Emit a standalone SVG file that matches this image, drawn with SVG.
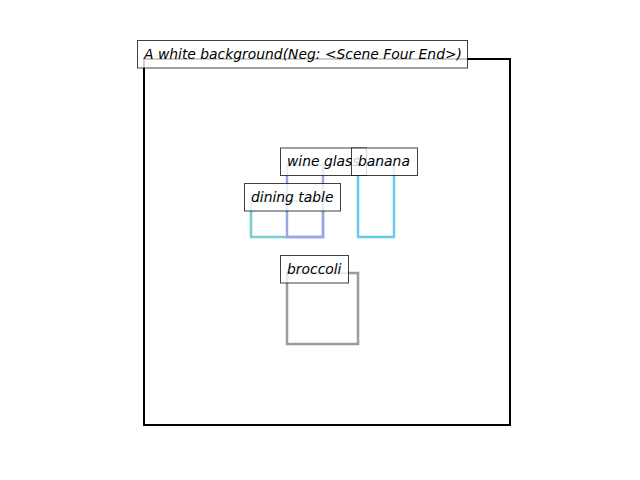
<svg xmlns="http://www.w3.org/2000/svg" width="640" height="480" viewBox="0 0 640 480">
<style>
.box{fill:none;stroke-width:2.5}
.lb{fill:#fff;fill-opacity:0.8;stroke:#000;stroke-opacity:0.75;stroke-width:1}
text{font-family:"DejaVu Sans","Liberation Sans",sans-serif;font-style:italic;font-size:13.89px;fill:#000}
</style>
<rect width="640" height="480" fill="#fff"/>
<g id="scene">
<rect x="144" y="59" width="366" height="366" fill="none" stroke="#000" stroke-width="2"/>
</g>
<g id="dining-table-rect"><rect class="box" x="251" y="201" width="72" height="36" stroke="#78ccd6"/></g>
<g id="wine-glass-rect"><rect class="box" x="287" y="165" width="36" height="72" stroke="#9aa6e4"/></g>
<g id="banana-rect"><rect class="box" x="358" y="165" width="36" height="72" stroke="#66ccee"/></g>
<g id="broccoli-rect"><rect class="box" x="287" y="273" width="71" height="71" stroke="#9c9c9c"/></g>
<g id="title-label"><rect class="lb" x="137.5" y="40.5" width="330" height="27.5"/><text x="144" y="58.5">A white background(Neg: &lt;Scene Four End&gt;)</text></g>
<g id="wine-glass"><rect class="lb" x="280.5" y="148" width="86" height="27.5"/><text x="287" y="166">wine glass</text></g>
<g id="banana"><rect class="lb" x="351.5" y="148" width="66" height="27.5"/><text x="358" y="166">banana</text></g>
<g id="dining-table"><rect class="lb" x="244.5" y="183.5" width="96" height="27.5"/><text x="251" y="202">dining table</text></g>
<g id="broccoli"><rect class="lb" x="280.5" y="255.5" width="68" height="27.5"/><text x="287" y="274">broccoli</text></g>
</svg>
